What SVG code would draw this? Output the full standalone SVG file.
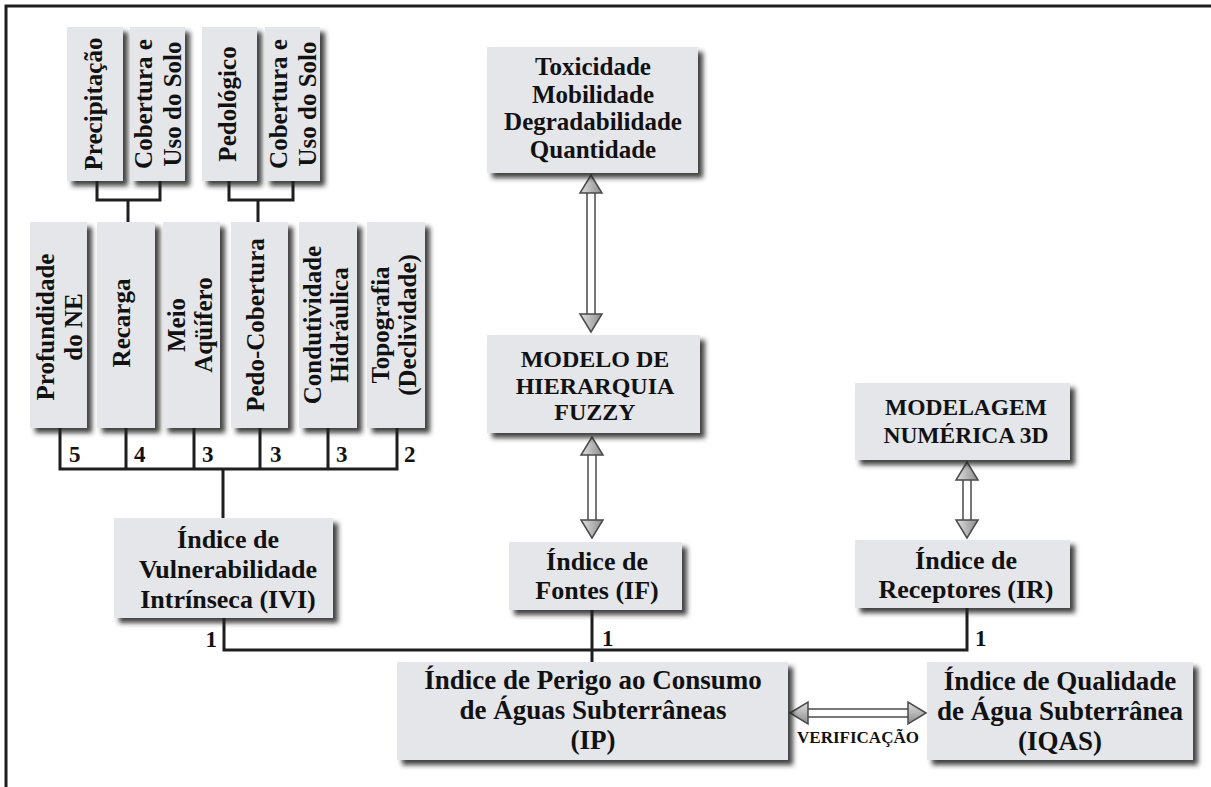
<svg xmlns="http://www.w3.org/2000/svg" width="1211" height="787" viewBox="0 0 1211 787">
<style>
.box{fill:#e5e6e9;filter:url(#sh)}
.t{font-family:"Liberation Serif","Times New Roman",serif;font-weight:bold;fill:#111;text-anchor:middle}
.v{font-size:25px}
.n{font-family:"Liberation Serif","Times New Roman",serif;font-weight:bold;fill:#111;font-size:23px}
.ln{stroke:#1e1e1e;stroke-width:3;fill:none}
.shaft{fill:#fff;stroke:#4a4a4a;stroke-width:1.5}
.head{fill:url(#ag);stroke:#4a4a4a;stroke-width:1.5}
.hhead{fill:url(#agh);stroke:#4a4a4a;stroke-width:1.5}
</style>
<defs>
<filter id="sh" x="-10%" y="-10%" width="130%" height="135%">
<feGaussianBlur in="SourceAlpha" stdDeviation="2.5"/>
<feOffset dx="5" dy="5" result="b"/>
<feFlood flood-color="#222" flood-opacity="0.85"/>
<feComposite in2="b" operator="in"/>
<feMerge><feMergeNode/><feMergeNode in="SourceGraphic"/></feMerge>
</filter>
<linearGradient id="ag" x1="0" y1="0" x2="1" y2="0">
<stop offset="0" stop-color="#e0e0e0"/><stop offset="1" stop-color="#8c8c8c"/>
</linearGradient>
<linearGradient id="agh" x1="0" y1="0" x2="0" y2="1">
<stop offset="0" stop-color="#e0e0e0"/><stop offset="1" stop-color="#8c8c8c"/>
</linearGradient>
</defs>
<rect width="1211" height="787" fill="#fff"/>
<g id="frame"><path class="ln" d="M6,787 V6 H1211"/></g>

<g id="connectors">
<path class="ln" d="M97,180 V200 H160 V181 M128,200 V222"/>
<path class="ln" d="M229,180 V200 H293 V181 M258,200 V222"/>
<path class="ln" d="M60,428 V469 H397 V428 M126,428 V469 M194,428 V469 M260,428 V469 M328,428 V469 M223,469 V518"/>
<path class="ln" d="M224,618 V650 H967 V608 M592,610 V662"/>
<g id="arrow-tox-fuzzy">
<rect class="shaft" x="587" y="192" width="8" height="123"/>
<polygon class="head" points="591,175 580,193 602,193"/>
<polygon class="head" points="591,332 580,314 602,314"/>
</g>
<g id="arrow-fuzzy-if">
<rect class="shaft" x="588" y="454" width="8" height="67"/>
<polygon class="head" points="592,437 581,455 603,455"/>
<polygon class="head" points="592,538 581,520 603,520"/>
</g>
<g id="arrow-model-ir">
<rect class="shaft" x="963" y="479" width="8" height="42"/>
<polygon class="head" points="967,462 956,480 978,480"/>
<polygon class="head" points="967,538 956,520 978,520"/>
</g>
<g id="arrow-verif">
<rect class="shaft" x="807" y="709" width="102" height="8"/>
<polygon class="hhead" points="790,713 808,702 808,724"/>
<polygon class="hhead" points="926,713 908,702 908,724"/>
</g>
<text class="n" x="69" y="462">5</text>
<text class="n" x="134" y="462">4</text>
<text class="n" x="202" y="462">3</text>
<text class="n" x="270" y="462">3</text>
<text class="n" x="336" y="462">3</text>
<text class="n" x="404" y="462">2</text>
<text class="n" x="217" y="647" text-anchor="end">1</text>
<text class="n" x="602" y="646">1</text>
<text class="n" x="975" y="646">1</text>
<text class="t" x="858" y="743" style="font-size:17px">VERIFICAÇÃO</text>
</g>

<g id="precipitacao"><rect class="box" x="67" y="27" width="56" height="154"/>
<text class="t v" transform="translate(95,104) rotate(-90)" y="7">Precipitação</text></g>
<g id="cobertura1"><rect class="box" x="130" y="27" width="55" height="154"/>
<text class="t v" transform="translate(157.5,104) rotate(-90)"><tspan x="0" y="-5.5">Cobertura e</tspan><tspan x="0" y="23.5">Uso do Solo</tspan></text></g>
<g id="pedologico"><rect class="box" x="202" y="27" width="55" height="154"/>
<text class="t v" transform="translate(229.5,104) rotate(-90)" y="6">Pedológico</text></g>
<g id="cobertura2"><rect class="box" x="265" y="27" width="55" height="154"/>
<text class="t v" transform="translate(292.5,104) rotate(-90)"><tspan x="0" y="-5.5">Cobertura e</tspan><tspan x="0" y="23.5">Uso do Solo</tspan></text></g>

<g id="profundidade"><rect class="box" x="30" y="222" width="57" height="206"/>
<text class="t v" transform="translate(58.5,327) rotate(-90)"><tspan x="0" y="-5">Profundidade</tspan><tspan x="0" y="23.5">do NE</tspan></text></g>
<g id="recarga"><rect class="box" x="97" y="222" width="58" height="206"/>
<text class="t v" transform="translate(126,323) rotate(-90)" y="4">Recarga</text></g>
<g id="meio-aquifero"><rect class="box" x="163" y="222" width="57" height="206"/>
<text class="t v" transform="translate(191.5,325) rotate(-90)"><tspan x="0" y="-7">Meio</tspan><tspan x="0" y="20">Aqüífero</tspan></text></g>
<g id="pedo-cobertura"><rect class="box" x="231" y="222" width="57" height="206"/>
<text class="t v" transform="translate(259.5,325) rotate(-90)" y="4">Pedo-Cobertura</text></g>
<g id="condutividade"><rect class="box" x="299" y="222" width="58" height="206"/>
<text class="t v" transform="translate(328,325) rotate(-90)"><tspan x="0" y="-7">Condutividade</tspan><tspan x="0" y="20">Hidráulica</tspan></text></g>
<g id="topografia"><rect class="box" x="367" y="222" width="58" height="206"/>
<text class="t v" transform="translate(396,325) rotate(-90)"><tspan x="0" y="-7">Topografia</tspan><tspan x="0" y="20">(Declividade)</tspan></text></g>

<g id="ivi"><rect class="box" x="114" y="518" width="219" height="100"/>
<text class="t" style="font-size:26px"><tspan x="228" y="548">Índice de</tspan><tspan x="228" y="578">Vulnerabilidade</tspan><tspan x="228" y="608">Intrínseca (IVI)</tspan></text></g>

<g id="toxicidade"><rect class="box" x="487" y="47" width="211" height="126"/>
<text class="t" style="font-size:25px"><tspan x="593" y="75">Toxicidade</tspan><tspan x="593" y="103">Mobilidade</tspan><tspan x="593" y="130">Degradabilidade</tspan><tspan x="593" y="158">Quantidade</tspan></text></g>

<g id="fuzzy"><rect class="box" x="487" y="335" width="213" height="98"/>
<text class="t" style="font-size:24px"><tspan x="595" y="367">MODELO DE</tspan><tspan x="595" y="394">HIERARQUIA</tspan><tspan x="595" y="420">FUZZY</tspan></text></g>

<g id="if"><rect class="box" x="509" y="542" width="173" height="68"/>
<text class="t" style="font-size:26px"><tspan x="597" y="570">Índice de</tspan><tspan x="597" y="599">Fontes (IF)</tspan></text></g>

<g id="modelagem"><rect class="box" x="855" y="383" width="215" height="77"/>
<text class="t" style="font-size:23.5px"><tspan x="966" y="415">MODELAGEM</tspan><tspan x="966" y="443">NUMÉRICA 3D</tspan></text></g>

<g id="ir"><rect class="box" x="855" y="540" width="215" height="68"/>
<text class="t" style="font-size:26px"><tspan x="966" y="569">Índice de</tspan><tspan x="966" y="598">Receptores (IR)</tspan></text></g>

<g id="ip"><rect class="box" x="397" y="662" width="391" height="98"/>
<text class="t" style="font-size:27px"><tspan x="593" y="689">Índice de Perigo ao Consumo</tspan><tspan x="593" y="719">de Águas Subterrâneas</tspan><tspan x="593" y="749">(IP)</tspan></text></g>

<g id="iqas"><rect class="box" x="927" y="662" width="266" height="98"/>
<text class="t" style="font-size:27px"><tspan x="1060" y="690">Índice de Qualidade</tspan><tspan x="1060" y="720">de Água Subterrânea</tspan><tspan x="1060" y="750">(IQAS)</tspan></text></g>
</svg>
